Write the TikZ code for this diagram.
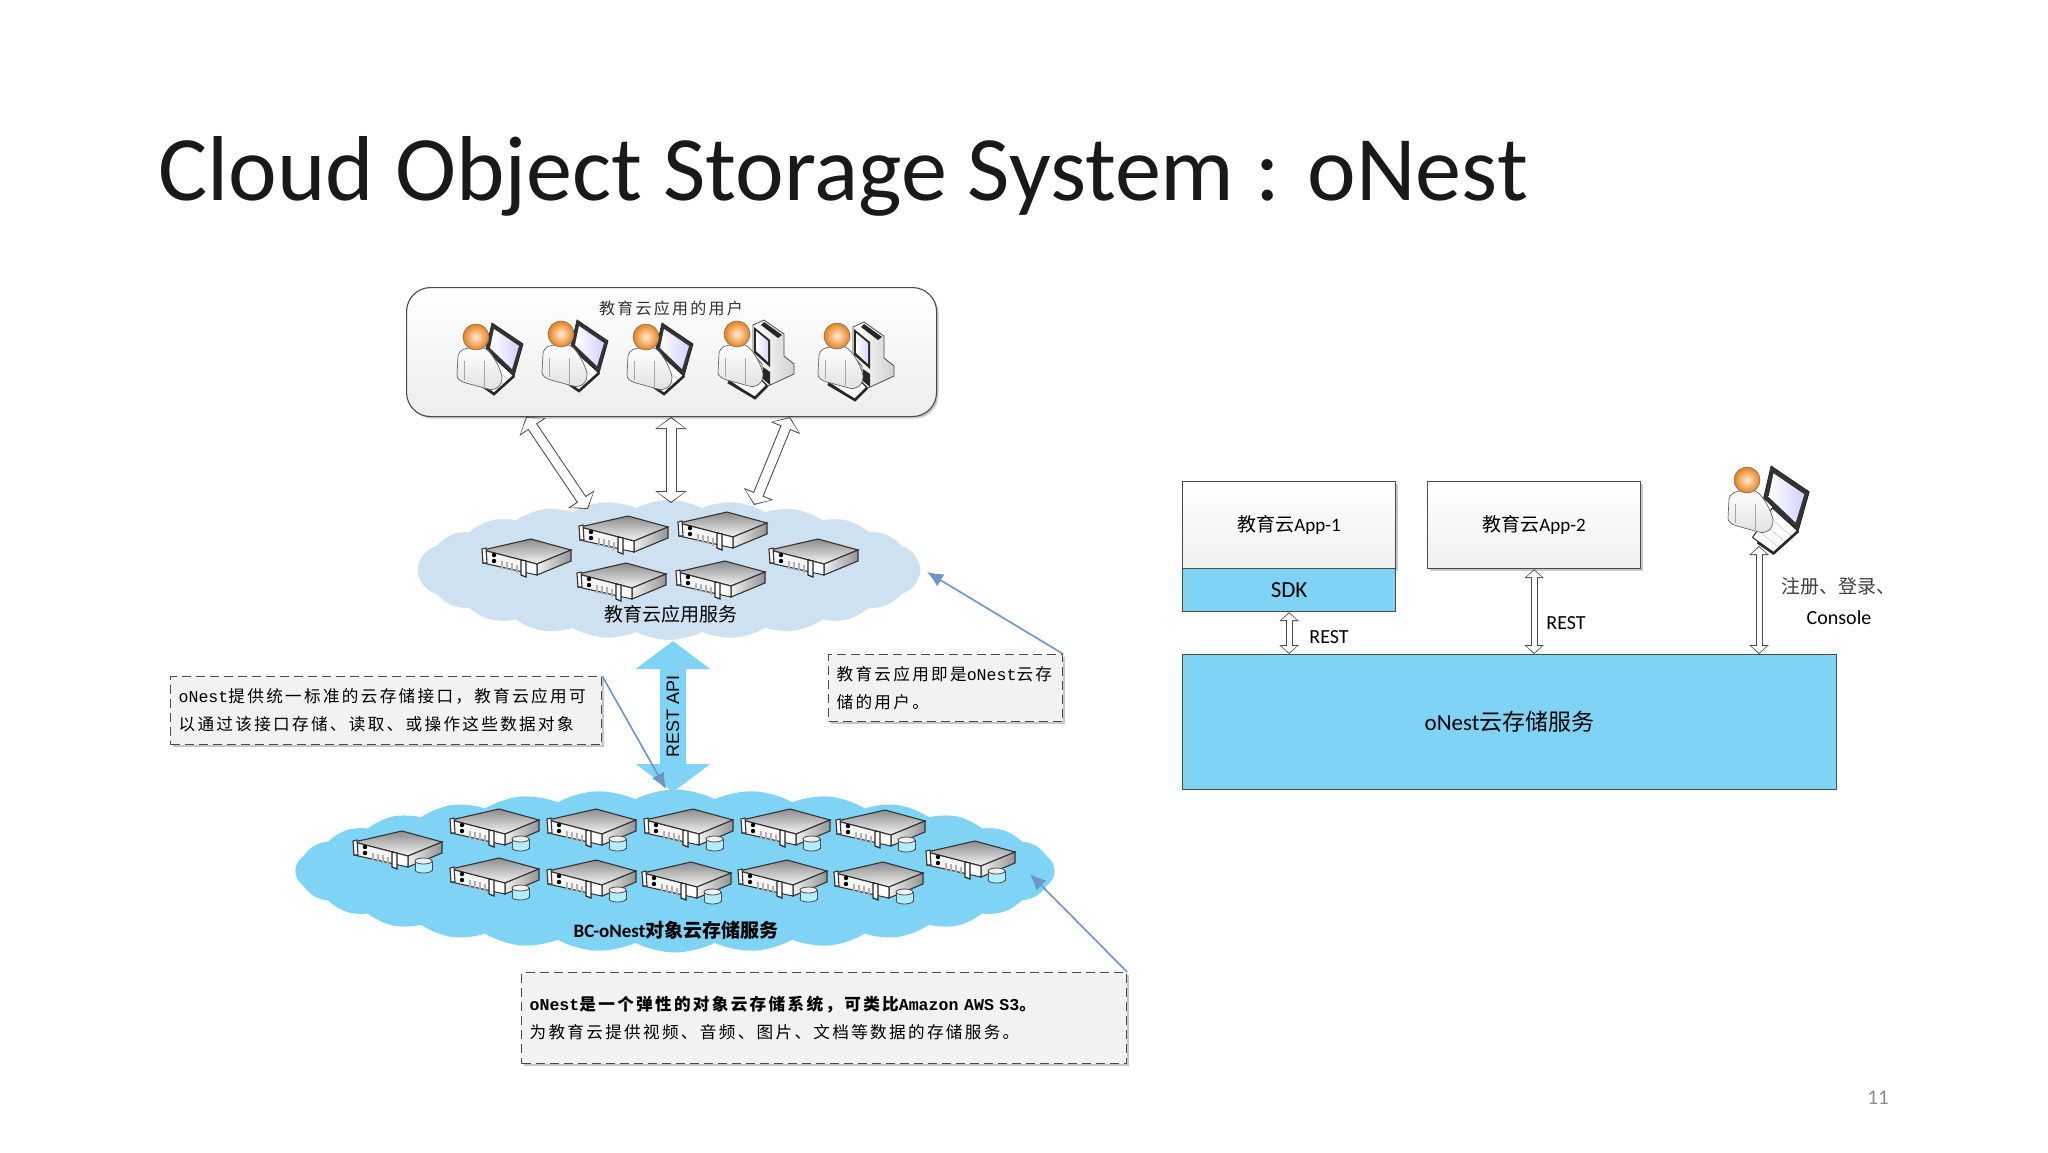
\documentclass[tikz,border=0pt]{standalone}
\usepackage{fontspec}
\setmainfont{Carlito}
\newfontfamily\cjk{Noto Sans CJK SC}
\newfontfamily\cjkwide[LetterSpace=14]{Noto Sans CJK SC}
\newfontfamily\latmono{Liberation Mono}
\newfontfamily\arialfont{Liberation Sans}
\usetikzlibrary{arrows.meta,shapes.symbols,shadows}
\definecolor{skyfill}{HTML}{7FD4F6}
\definecolor{palecloud}{HTML}{CEE1F0}
\definecolor{noteline}{HTML}{6C95C8}
\definecolor{edge}{HTML}{4A4A4A}
\tikzset{
softshadow/.style={drop shadow={shadow xshift=2pt,shadow yshift=-2pt,opacity=.22,fill=black}},
notebox/.style={
  draw=edge, fill=black!5, line width=1.2pt, dash pattern=on 9pt off 5pt,
  anchor=north west, inner xsep=8pt, inner ysep=0pt, align=left,
  softshadow,
  font=\cjkwide\fontsize{16.6}{28}\selectfont
  },
appbox/.style={
  draw=edge, line width=1.2pt, top color=white, bottom color=black!6,
  anchor=north west, inner sep=0pt, softshadow,
  font=\cjk\fontsize{19}{24}\selectfont
  },
bluebox/.style={
  draw=edge, line width=1.2pt, fill=skyfill,
  anchor=north west, inner sep=0pt,
  font=\fontsize{23}{28}\selectfont
  },
notearrow/.style={
  draw=noteline, line width=1.6pt, -{Latex[length=16pt,width=14pt]}
  },
wideback/.style={
  draw=edge, line width=11pt, {Triangle[length=12pt,width=31pt]}-{Triangle[length=12pt,width=31pt]}
  },
widefront/.style={
  draw=white, line width=9pt, shorten >=1.4pt, shorten <=1.4pt,
  {Triangle[length=9.6pt,width=27pt]}-{Triangle[length=9.6pt,width=27pt]}
  },
thinback/.style={
  draw=edge, line width=7pt, {Triangle[length=9pt,width=19pt]}-{Triangle[length=9pt,width=19pt]}
  },
thinfront/.style={
  draw=white, line width=5pt, shorten >=1.2pt, shorten <=1.2pt,
  {Triangle[length=6.8pt,width=15pt]}-{Triangle[length=6.8pt,width=15pt]}
  },
serverpic/.pic={
  \draw[black!80, line width=1.1pt, top color=black!45, bottom color=black!4]
    (0,11) -- (48,0) -- (88,11) -- (54,25) -- cycle;
  \draw[black!80, line width=1.1pt, left color=black!6, right color=black!42]
    (54,25) -- (88,11) -- (88,22) -- (54,36) -- cycle;
  \draw[black!80, line width=1.1pt, fill=black!4]
    (0,11) -- (54,25) -- (54,36) -- (0,24) -- cycle;
  \draw[black!80, line width=1.1pt, fill=white] (-1,10) -- (3,9) -- (4,24) -- (0,24) -- cycle;
  \fill[black] (11,16) circle (2.2);
  \fill[black] (11,22) circle (2.2);
  \foreach \sx in {18,23,28,33}
    \fill[black!30] (\sx,17+.26*\sx) rectangle ++(2,8);
  \fill[white] (44,24) -- (53,26) -- (53,35) -- (44,33) -- cycle;
  \draw[black!85, line width=1.2pt, fill=white] (38,21) -- (43,22) -- (43,38) -- (38,36) -- cycle;
  },
dbpic/.pic={
  \draw[black!70, line width=.8pt, fill=blue!25!cyan!30] (61,30) rectangle (78,39);
  \draw[black!70, line width=.8pt, fill=blue!25!cyan!30] (69.5,39) ellipse (8.5 and 3);
  \fill[blue!25!cyan!30] (61.5,32) rectangle (77.5,39);
  \draw[black!70, line width=.8pt, fill=black!6] (69.5,30) ellipse (8.5 and 3);
  },
bodypic/.pic={
  \draw[black!60, line width=.7pt, top color=white, bottom color=black!12]
    (0,52) -- (1,33) .. controls (2,27) and (8,25) .. (14,25) -- (27,25)
    .. controls (34,27) and (44,46) .. (45,54) .. controls (45,64) and (38,68) .. (31,66)
    -- (9,60) .. controls (3,58) and (0,56) .. (0,52) -- cycle;
  \draw[black!35, line width=.6pt] (7,38) -- (7,57) (27,38) -- (27,64);
  \draw[black!55, line width=.6pt, shade, inner color=orange!15!white, outer color=orange!65!brown]
    (19,14) circle (13);
  },
laptoppic/.pic={
  \draw[black!85, line width=1pt, fill=white] (36,34) -- (57,53) -- (37,71) -- (20,58) -- cycle;
  \foreach \kx in {.25,.5,.75}
    \draw[black!25, line width=.4pt] (36-\kx*16,34+\kx*24) -- (57-\kx*20,53+\kx*18);
  \draw[black!85, line width=2.6pt] (57,53) -- (37,71) -- (24,62);
  \draw[black!85, line width=.8pt, fill=black!80] (35,0) -- (66,21) -- (57,53) -- (29,26) -- cycle;
  \path[left color=white, right color=blue!18] (37,6) -- (62,23) -- (55,46) -- (33,25) -- cycle;
  \pic {bodypic};
  },
desktoppic/.pic={
  \draw[black!85, line width=1pt, fill=white] (10,60) -- (36,52) -- (49,66) -- (37,78) -- cycle;
  \draw[black!85, line width=2.6pt] (10,62) -- (37,78) -- (49,66);
  \draw[black!70, line width=.8pt, left color=white, right color=black!18]
    (35,5) -- (46,0) -- (66,14) -- (66,36) -- (76,44) -- (76,54) -- (50,66) -- (44,60) -- (44,44) -- (35,34) -- cycle;
  \fill[black!85] (46,2) -- (64,15) -- (60,18) -- (43,5) -- cycle;
  \fill[black!85] (36,7) -- (52,20) -- (52,47) -- (36,33) -- cycle;
  \path[left color=white, right color=blue!15] (38,11) -- (50,21) -- (50,42) -- (38,31) -- cycle;
  \fill[black!85] (45,47) -- (52,52) -- (52,65) -- (45,59) -- cycle;
  \pic {bodypic};
  }
}
\begin{document}
\begin{tikzpicture}[x=1pt, y=-1pt, every node/.style={text=black}]
\useasboundingbox (0,0) rectangle (2048,1152);
\fill[white] (0,0) rectangle (2048,1152);

\node[anchor=base west, font=\fontsize{92.2}{100}\selectfont, text=black!90] (title) at (155,200)
  {Cloud Object Storage System : oNest};

\node[draw=edge, line width=1.1pt, rounded corners=24pt, top color=white, bottom color=black!7,
  minimum width=530pt, minimum height=129pt, anchor=north west, inner sep=0pt, softshadow]
  (users) at (406,287) {};
\node[font=\cjkwide\fontsize{16}{20}\selectfont, text=black!80] (userslabel) at (671,308) {教育云应用的用户};

\foreach \px/\py in {457/323, 542/320, 627/323}
  \pic at (\px,\py) {laptoppic};
\foreach \px/\py in {718/320, 818/322}
  \pic at (\px,\py) {desktoppic};

\node[cloud, cloud puffs=24, cloud puff arc=55, aspect=3.6, fill=palecloud,
  minimum width=503pt, minimum height=140pt, inner sep=0pt] (appcloud) at (669,570) {};
\node[cloud, cloud puffs=30, cloud puff arc=55, aspect=4.6, fill=skyfill,
  minimum width=759pt, minimum height=163pt, inner sep=0pt] (storecloud) at (675,871) {};

\foreach \sx/\sy in {483/539, 580/516, 679/512, 770/539, 578/563, 677/561}
  \pic at (\sx,\sy) {serverpic};
\foreach \sx/\sy in {354/831, 451/809, 548/809, 645/809, 742/809, 837/810,
                     451/858, 548/860, 643/862, 739/860, 835/862, 927/841} {
  \pic at (\sx,\sy) {serverpic};
  \pic at (\sx,\sy) {dbpic};
}

\node[font=\cjk\fontsize{19}{22}\selectfont] (applabel) at (671,614) {教育云应用服务};
\node[font=\cjk\fontsize{19}{22}\selectfont\bfseries] (storelabel) at (676,930) {{\rmfamily BC-oNest}对象云存储服务};

\coordinate (lefttop) at (526,417);
\coordinate (leftbot) at (588,509);
\coordinate (midtop) at (671,417);
\coordinate (midbot) at (671,503);
\coordinate (righttop) at (790,417);
\coordinate (rightbot) at (754,505);
\foreach \from/\to in {lefttop/leftbot, midtop/midbot, righttop/rightbot} {
  \draw[wideback] (\from) -- (\to);
  \draw[widefront] (\from) -- (\to);
}

\coordinate (apitop) at (673,641);
\coordinate (apibot) at (673,792);
\draw[draw=skyfill, line width=26pt, {Triangle[length=28pt,width=73pt]}-{Triangle[length=28pt,width=73pt]}]
  (apitop) -- (apibot);
\node[rotate=90, font=\arialfont\fontsize{18}{20}\selectfont] (apilabel) at (673,716) {REST API};

\node[notebox, minimum width=431pt, minimum height=68pt, text width=415pt] (notea) at (170,676)
  {{\latmono oNest}提供统一标准的云存储接口，教育云应用可\\以通过该接口存储、读取、或操作这些数据对象};
\node[notebox, minimum width=234pt, minimum height=67pt, text width=218pt] (noteb) at (828,654)
  {教育云应用即是{\latmono oNest}云存\\储的用户。};
\node[notebox, minimum width=605pt, minimum height=91pt, text width=589pt] (notec) at (521,972)
  {\bfseries{\latmono oNest}是一个弹性的对象云存储系统，可类比{\latmono Amazon AWS S3}。\\
   \mdseries 为教育云提供视频、音频、图片、文档等数据的存储服务。};

\coordinate (apihit) at (666,789);
\coordinate (apphit) at (927,572);
\coordinate (storehit) at (1030,874);
\draw[notearrow] (notea.north east) -- (apihit);
\draw[notearrow] (noteb.north east) -- (apphit);
\draw[notearrow] (notec.north east) -- (storehit);

\node[appbox, minimum width=213pt, minimum height=87pt] (appone) at (1182,481)
  {教育云{\rmfamily App-1}};
\node[bluebox, minimum width=213pt, minimum height=43pt] (sdk) at (1182,568) {SDK};
\node[appbox, minimum width=213pt, minimum height=87pt] (apptwo) at (1427,481)
  {教育云{\rmfamily App-2}};
\node[bluebox, minimum width=654pt, minimum height=135pt, font=\cjk\fontsize{23}{28}\selectfont] (onest) at (1182,654)
  {{\rmfamily oNest}云存储服务};

\pic[scale=1.23] at (1728,466) {laptoppic};
\coordinate (admin) at (1759,546);
\coordinate (sdkfoot) at (sdk.south |- onest.north);
\coordinate (twofoot) at (apptwo.south |- onest.north);
\coordinate (adminfoot) at (admin |- onest.north);
\foreach \from/\to in {sdk.south/sdkfoot, apptwo.south/twofoot, admin/adminfoot} {
  \draw[thinback] (\from) -- (\to);
  \draw[thinfront] (\from) -- (\to);
}

\node[font=\fontsize{20}{24}\selectfont] (restone) at (1329,637) {REST};
\node[font=\fontsize{20}{24}\selectfont] (resttwo) at (1566,623) {REST};
\node[font=\cjk\fontsize{19}{24}\selectfont, text=black!75] (signup) at (1838,586) {注册、登录、};
\node[font=\fontsize{20}{24}\selectfont] (console) at (1839,618) {Console};

\node[font=\fontsize{21}{24}\selectfont, text=black!45] (pageno) at (1878,1098) {11};
\end{tikzpicture}
\end{document}
